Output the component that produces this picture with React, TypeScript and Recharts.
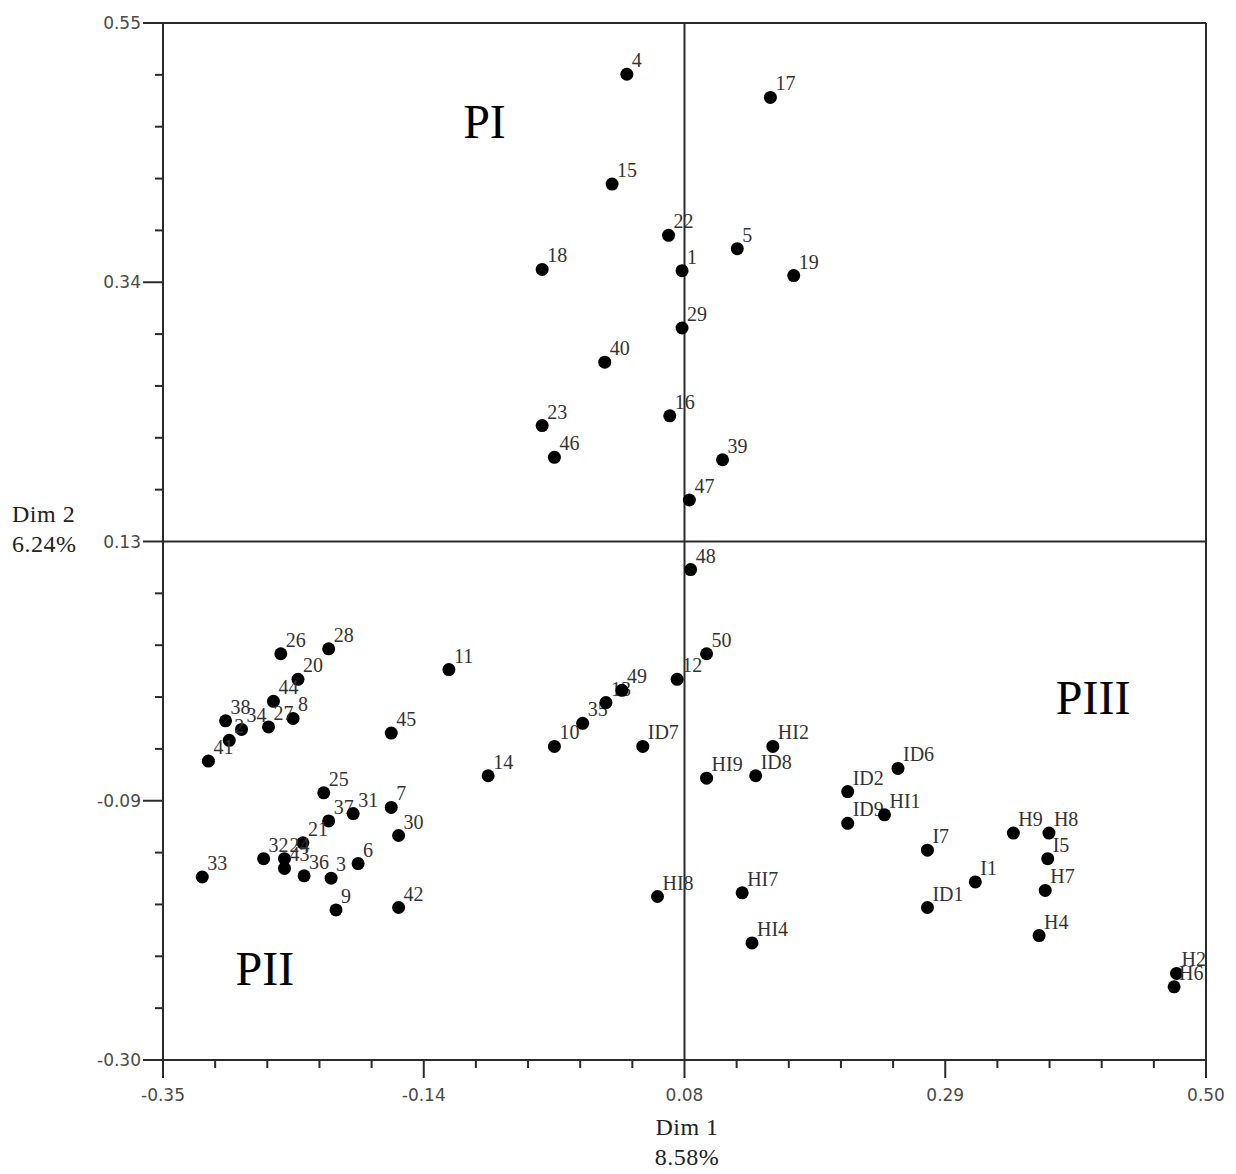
import { ScatterChart, Scatter, XAxis, YAxis, ReferenceLine } from 'recharts';

// [label, Dim 1, Dim 2]
type Pt = [string, number, number];

const UPPER_POINTS: Pt[] = [
  ['4', 0.028, 0.508],
  ['17', 0.145, 0.489],
  ['15', 0.016, 0.418],
  ['22', 0.062, 0.376],
  ['5', 0.118, 0.365],
  ['1', 0.073, 0.347],
  ['18', -0.041, 0.348],
  ['19', 0.164, 0.343],
  ['29', 0.073, 0.3],
  ['40', 0.01, 0.272],
  ['16', 0.063, 0.228],
  ['23', -0.041, 0.22],
  ['46', -0.031, 0.194],
  ['39', 0.106, 0.192],
  ['47', 0.079, 0.159],
  ['48', 0.08, 0.102],
];

const LOWER_LEFT_POINTS: Pt[] = [
  ['26', -0.254, 0.033],
  ['28', -0.215, 0.037],
  ['20', -0.24, 0.012],
  ['11', -0.117, 0.02],
  ['44', -0.26, -0.006],
  ['8', -0.244, -0.02],
  ['38', -0.299, -0.022],
  ['34', -0.286, -0.029],
  ['27', -0.264, -0.027],
  ['2', -0.296, -0.038],
  ['41', -0.313, -0.055],
  ['45', -0.164, -0.032],
  ['25', -0.219, -0.081],
  ['37', -0.215, -0.104],
  ['31', -0.195, -0.098],
  ['7', -0.164, -0.093],
  ['30', -0.158, -0.116],
  ['21', -0.236, -0.122],
  ['32', -0.268, -0.135],
  ['24', -0.251, -0.135],
  ['43', -0.251, -0.143],
  ['36', -0.235, -0.149],
  ['3', -0.213, -0.151],
  ['6', -0.191, -0.139],
  ['9', -0.209, -0.177],
  ['42', -0.158, -0.175],
  ['33', -0.318, -0.15],
  ['14', -0.085, -0.067],
  ['10', -0.031, -0.043],
  ['35', -0.008, -0.024],
  ['13', 0.011, -0.007],
  ['49', 0.024, 0.003],
  ['12', 0.069, 0.012],
  ['50', 0.093, 0.033],
];

const RIGHT_POINTS: Pt[] = [
  ['ID7', 0.041, -0.043],
  ['HI2', 0.147, -0.043],
  ['ID8', 0.133, -0.067],
  ['HI9', 0.093, -0.069],
  ['ID6', 0.249, -0.061],
  ['ID2', 0.208, -0.08],
  ['ID9', 0.208, -0.106],
  ['HI1', 0.238, -0.099],
  ['I7', 0.273, -0.128],
  ['HI8', 0.053, -0.166],
  ['HI7', 0.122, -0.163],
  ['HI4', 0.13, -0.204],
  ['ID1', 0.273, -0.175],
  ['H9', 0.343, -0.114],
  ['H8', 0.372, -0.114],
  ['I5', 0.371, -0.135],
  ['H7', 0.369, -0.161],
  ['I1', 0.312, -0.154],
  ['H4', 0.364, -0.198],
  ['H2', 0.476, -0.229],
  ['H6', 0.474, -0.24],
];

const REGION_LABELS: Pt[] = [
  ['PI', -0.088, 0.469],
  ['PII', -0.267, -0.225],
  ['PIII', 0.408, -0.003],
];

const X_MAJOR = [-0.35, -0.1375, 0.075, 0.2875, 0.5];
const X_LABELS = ['-0.35', '-0.14', '0.08', '0.29', '0.50'];
const Y_MAJOR = [-0.3, -0.0875, 0.125, 0.3375, 0.55];
const Y_LABELS = ['-0.30', '-0.09', '0.13', '0.34', '0.55'];

const AXIS_COLOR = '#2b2b2b';
const TICK_FONT = '"DejaVu Sans", sans-serif';
const SERIF = '"Liberation Serif", serif';

// 4 minor ticks between each pair of major ticks
function withMinor(major: number[]) {
  const out: number[] = [];
  for (let i = 0; i < major.length - 1; i++) {
    const step = (major[i + 1] - major[i]) / 5;
    for (let k = 0; k < 5; k++) out.push(major[i] + step * k);
  }
  out.push(major[major.length - 1]);
  return out;
}

const toRows = (pts: Pt[]) => pts.map(([name, x, y]) => ({ name, x, y }));

const points = [...toRows(UPPER_POINTS), ...toRows(LOWER_LEFT_POINTS), ...toRows(RIGHT_POINTS)];
const regions = toRows(REGION_LABELS);

function majorIndex(list: number[], v: number) {
  return list.findIndex((m) => Math.abs(m - v) < 1e-6);
}

function XTick(props: any) {
  const { x, y, payload } = props;
  const idx = majorIndex(X_MAJOR, payload.value);
  return (
    <g>
      <line x1={x} x2={x} y1={y} y2={y + (idx >= 0 ? 18 : 8)} stroke={AXIS_COLOR} strokeWidth={2} />
      {idx >= 0 && (
        <text x={x} y={y + 41} textAnchor="middle" fontSize={17} fill="#4a4a4a" fontFamily={TICK_FONT}>
          {X_LABELS[idx]}
        </text>
      )}
    </g>
  );
}

function YTick(props: any) {
  const { x, y, payload } = props;
  const idx = majorIndex(Y_MAJOR, payload.value);
  return (
    <g>
      <line x1={x - (idx >= 0 ? 20 : 8)} x2={x} y1={y} y2={y} stroke={AXIS_COLOR} strokeWidth={2} />
      {idx >= 0 && (
        <text x={x - 22} y={y + 6} textAnchor="end" fontSize={17} fill="#4a4a4a" fontFamily={TICK_FONT}>
          {Y_LABELS[idx]}
        </text>
      )}
    </g>
  );
}

function PointShape(props: any) {
  const { cx, cy, payload } = props;
  return (
    <g>
      <circle cx={cx} cy={cy} r={6.5} fill="#000" />
      <text x={cx + 5} y={cy - 7} fontSize={20} fill="#333" fontFamily={SERIF}>
        {payload.name}
      </text>
    </g>
  );
}

function RegionShape(props: any) {
  const { cx, cy, payload } = props;
  return (
    <text x={cx} y={cy + 16} textAnchor="middle" fontSize={48} fill="#000" fontFamily={SERIF}>
      {payload.name}
    </text>
  );
}

const titleStyle: React.CSSProperties = {
  position: 'absolute',
  fontFamily: SERIF,
  fontSize: 24,
  lineHeight: '30px',
  color: '#222',
  letterSpacing: '0.5px',
  whiteSpace: 'nowrap',
};

export default function App() {
  return (
    <div style={{ position: 'relative', width: 1220, height: 1160, background: '#fff' }}>
      <ScatterChart width={1220} height={1160} margin={{ top: 15, right: 22, bottom: 0, left: 0 }}>
        <XAxis
          type="number"
          dataKey="x"
          domain={[-0.35, 0.5]}
          ticks={withMinor(X_MAJOR)}
          interval={0}
          tick={<XTick />}
          tickLine={false}
          tickSize={0}
          tickMargin={0}
          height={108}
          axisLine={{ stroke: AXIS_COLOR, strokeWidth: 2 }}
          allowDataOverflow
        />
        <YAxis
          type="number"
          dataKey="y"
          domain={[-0.3, 0.55]}
          ticks={withMinor(Y_MAJOR)}
          interval={0}
          tick={<YTick />}
          tickLine={false}
          tickSize={0}
          tickMargin={0}
          width={155}
          axisLine={{ stroke: AXIS_COLOR, strokeWidth: 2 }}
          allowDataOverflow
        />
        <ReferenceLine y={0.55} stroke={AXIS_COLOR} strokeWidth={2} />
        <ReferenceLine x={0.5} stroke={AXIS_COLOR} strokeWidth={2} />
        <ReferenceLine y={0.125} stroke={AXIS_COLOR} strokeWidth={2} />
        <ReferenceLine x={0.075} stroke={AXIS_COLOR} strokeWidth={2} />
        <Scatter data={regions} shape={<RegionShape />} isAnimationActive={false} />
        <Scatter data={points} shape={<PointShape />} isAnimationActive={false} />
      </ScatterChart>
      <div style={{ ...titleStyle, left: 4, top: 491 }}>
        Dim 2
        <br />
        6.24%
      </div>
      <div style={{ ...titleStyle, left: 679, top: 1104, transform: 'translateX(-50%)', textAlign: 'center' }}>
        Dim 1
        <br />
        8.58%
      </div>
    </div>
  );
}
